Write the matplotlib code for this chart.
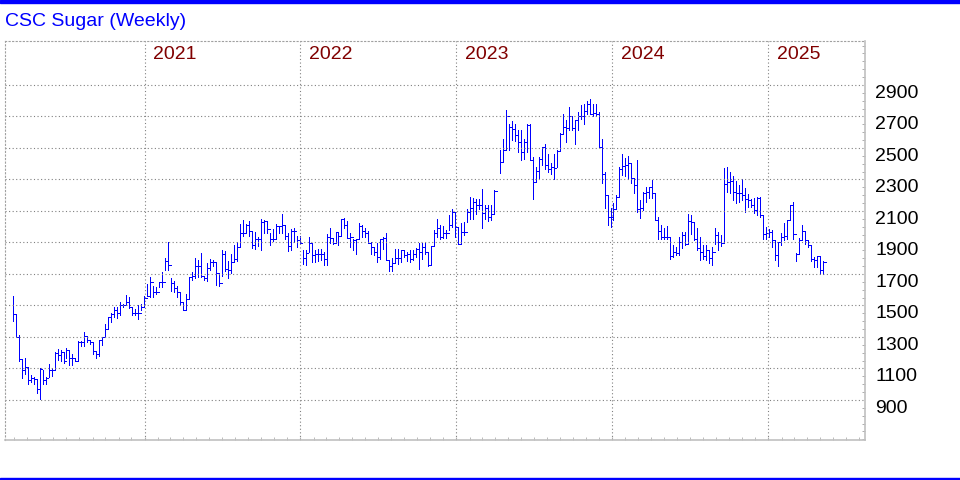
import numpy as np
import pandas as pd
import matplotlib
matplotlib.use('Agg')
import matplotlib.pyplot as plt
import matplotlib.dates as mdates
from matplotlib.ticker import MultipleLocator, NullFormatter
from matplotlib.patches import Rectangle

nan = np.nan

# weekly bars, first week ending late Feb 2020
weeks = pd.date_range('2020-02-27', periods=272, freq='7D')

high = [1561, 1445, 1310, 1160, 1167, 1112, 1058, 1047, 1032, 1100,
        1090, 1045, 1128, 1100, 1203, 1225, 1220, 1203, 1227, 1220,
        1190, 1167, 1272, 1272, 1330, 1308, 1283, 1265, 1214, 1278,
        1300, 1380, 1428, 1454, 1492, 1492, 1524, 1510, 1567, 1552,
        1488, 1480, 1503, 1510, 1557, 1638, 1680, 1624, 1620, 1652,
        1710, 1800, 1900, 1673, 1656, 1624, 1588, 1520, 1571, 1680,
        1710, 1800, 1790, 1830, 1688, 1770, 1795, 1790, 1770, 1705,
        1850, 1844, 1780, 1829, 1887, 1900, 2015, 2042, 2015, 2036,
        1972, 1968, 1936, 2047, 2042, 2036, 1961, 1987, 2015, 2004,
        2079, 2008, 1961, 1983, 1990, 1942, 1942, 1850, 1850, 1933,
        1894, 1850, 1861, 1861, 1840, 1955, 1990, 1926, 1965, 1965,
        2050, 2056, 2035, 1959, 1920, 1920, 2024, 2013, 1990, 1970,
        1905, 1872, 1894, 1920, 1937, 1959, 1785, 1803, 1861, 1861,
        1850, 1850, 1840, 1850, 1855, 1868, 1894, 1894, 1894, 1840,
        1876, 1980, 2046, 2013, 2002, 1980, 2073, 2115, 2094, 1999,
        2024, 2030, 2115, 2189, 2185, 2178, 2178, 2237, 2136, 2136,
        2136, 2235, nan, 2485, 2558, 2738, 2654, 2670, 2649, 2611,
        2616, 2558, 2649, 2649, 2442, 2379, 2442, 2506, 2527, 2463,
        2404, 2463, 2485, 2594, 2713, 2675, 2763, 2700, 2679, 2727,
        2770, 2780, 2801, 2812, 2780, 2776, 2727, 2558, 2345, 2202,
        2117, 2149, 2202, 2379, 2464, 2436, 2451, 2404, 2308, 2421,
        2170, 2223, 2255, 2255, 2298, 2213, 2060, 2010, 1989, 2004,
        1936, 1883, 1872, 1936, 1968, 1968, 2081, 2074, 2032, 1989,
        1936, 1883, 1883, 1851, 1872, 1989, 1968, 1947, 2370, 2377,
        2349, 2321, 2291, 2264, 2300, 2243, 2206, 2179, 2185, 2189,
        2189, 2072, 1998, 1987, 1977, 1913, 1902, 1960, 2023, 2040,
        2136, 2157, 1832, 1930, 2009, 1966, 1917, 1881, 1806, 1817,
        1817, 1785]

low = [1403, 1300, 1150, 1040, 1064, 1000, 1015, 1000, 947, 905,
       1000, 1000, 1047, 1050, 1092, 1154, 1150, 1133, 1167, 1122,
       1122, 1145, 1150, 1240, 1240, 1265, 1253, 1190, 1167, 1180,
       1246, 1300, 1351, 1396, 1428, 1422, 1439, 1488, 1503, 1482,
       1439, 1439, 1411, 1470, 1488, 1557, 1556, 1556, 1573, 1616,
       1616, 1727, 1727, 1594, 1588, 1556, 1500, 1470, 1470, 1541,
       1662, 1673, 1680, 1680, 1662, 1656, 1727, 1748, 1630, 1624,
       1688, 1716, 1673, 1705, 1780, 1780, 1872, 1944, 1961, 1944,
       1865, 1859, 1880, 1855, 1961, 1961, 1887, 1908, 1923, 1961,
       1961, 1919, 1844, 1855, 1905, 1872, 1894, 1764, 1757, 1840,
       1779, 1774, 1785, 1790, 1757, 1757, 1894, 1890, 1894, 1883,
       1942, 1990, 1926, 1872, 1850, 1829, 1920, 1933, 1933, 1894,
       1829, 1818, 1774, 1796, 1861, 1790, 1720, 1720, 1768, 1764,
       1774, 1807, 1785, 1774, 1790, 1807, 1731, 1796, 1829, 1753,
       1764, 1876, 1937, 1920, 1926, 1926, 1978, 1999, 1935, 1893,
       1893, 1946, 2030, 2052, 2052, 2083, 2115, 1995, 2052, 2037,
       2041, 2083, nan, 2341, 2411, 2485, 2485, 2548, 2544, 2474,
       2421, 2432, 2474, 2421, 2178, 2284, 2311, 2389, 2368, 2347,
       2333, 2305, 2379, 2480, 2586, 2537, 2611, 2611, 2527, 2616,
       2685, 2654, 2717, 2713, 2706, 2700, 2506, 2278, 2117, 2010,
       2000, 2042, 2111, 2187, 2330, 2319, 2302, 2277, 2213, 2096,
       2053, 2106, 2160, 2181, 2181, 2042, 1919, 1919, 1925, 1919,
       1798, 1808, 1819, 1819, 1862, 1883, 1893, 1953, 1915, 1855,
       1787, 1798, 1787, 1770, 1755, 1893, 1851, 1876, 1902, 2221,
       2211, 2172, 2151, 2157, 2172, 2094, 2126, 2126, 2087, 2072,
       2062, 1923, 1923, 1934, 1870, 1791, 1753, 1887, 1913, 1923,
       2040, 1923, 1785, 1832, 1913, 1891, 1874, 1785, 1742, 1742,
       1700, 1700]

close = [1445, 1300, 1160, 1092, 1112, 1026, 1040, 1032, 972, 1095,
         1030, 1040, 1092, 1092, 1200, 1186, 1203, 1150, 1220, 1167,
         1165, 1150, 1265, 1265, 1308, 1283, 1265, 1210, 1190, 1278,
         1300, 1351, 1428, 1445, 1470, 1454, 1503, 1503, 1520, 1488,
         1450, 1450, 1450, 1488, 1550, 1561, 1652, 1588, 1588, 1652,
         1652, 1784, 1756, 1641, 1613, 1588, 1520, 1470, 1541, 1680,
         1688, 1748, 1748, 1688, 1673, 1737, 1773, 1773, 1705, 1641,
         1829, 1730, 1727, 1773, 1795, 1872, 1961, 1961, 2008, 1972,
         1882, 1919, 1923, 2030, 2036, 1987, 1923, 1923, 2004, 2004,
         2008, 1940, 1880, 1972, 1974, 1916, 1898, 1803, 1833, 1894,
         1818, 1824, 1824, 1824, 1796, 1937, 1926, 1898, 1965, 1942,
         2046, 2013, 1926, 1933, 1916, 1920, 2002, 1970, 1959, 1894,
         1872, 1840, 1807, 1920, 1931, 1790, 1753, 1768, 1803, 1803,
         1850, 1818, 1829, 1796, 1824, 1861, 1840, 1872, 1840, 1759,
         1876, 1959, 1990, 1937, 1959, 1959, 2009, 2094, 1999, 1893,
         1967, 1967, 2094, 2121, 2157, 2136, 2136, 2090, 2121, 2062,
         2083, 2225, nan, 2411, 2485, 2700, 2632, 2622, 2580, 2537,
         2474, 2537, 2643, 2421, 2284, 2354, 2432, 2506, 2389, 2368,
         2379, 2375, 2480, 2586, 2632, 2628, 2700, 2628, 2675, 2706,
         2700, 2734, 2780, 2717, 2721, 2713, 2506, 2337, 2202, 2060,
         2060, 2111, 2187, 2366, 2387, 2394, 2404, 2308, 2266, 2111,
         2117, 2217, 2223, 2255, 2213, 2042, 1974, 1936, 1936, 1932,
         1812, 1840, 1830, 1904, 1947, 1893, 2036, 2032, 1919, 1868,
         1840, 1812, 1851, 1804, 1840, 1947, 1904, 1898, 2274, 2285,
         2291, 2221, 2215, 2211, 2204, 2179, 2168, 2136, 2108, 2185,
         2072, 1951, 1960, 1966, 1913, 1823, 1902, 1934, 1938, 2040,
         2136, 1951, 1828, 1917, 1972, 1913, 1881, 1796, 1789, 1813,
         1725, 1774]

years = [2021, 2022, 2023, 2024, 2025]
price_ticks = list(range(900, 3000, 200))

plt.rcParams['font.family'] = ['Liberation Sans', 'DejaVu Sans']

fig = plt.figure(figsize=(9.6, 4.8), dpi=100)
ax = fig.add_axes([5 / 960, 40 / 480, 860 / 960, 399 / 480])

x = mdates.date2num(weeks)
ax.vlines(x, low, high, color='#0000ff', lw=0.72, antialiased=False)
ax.hlines(close, x, x + 6.5, color='#0000ff', lw=0.72, antialiased=False)

ax.set_xlim(mdates.date2num(pd.Timestamp('2020-02-09')),
            mdates.date2num(pd.Timestamp('2025-08-15')))
ax.set_ylim(646, 3179)

# grid
dotted = (0, (1, 2.2))
for p in price_ticks:
    ax.axhline(p, color='#808080', lw=0.8, ls=dotted)
    # price label sits just below its grid line, right of the frame
    ax.annotate(str(p), xy=(1, p), xycoords=('axes fraction', 'data'),
                xytext=(7.5, -6), textcoords='offset points',
                ha='left', va='center', fontsize=14, color='black')
for yr in years:
    d = mdates.date2num(pd.Timestamp(f'{yr}-01-01'))
    ax.axvline(d, color='#808080', lw=0.8, ls=dotted)
    ax.annotate(str(yr), xy=(d, 1), xycoords=('data', 'axes fraction'),
                xytext=(6, -9.5), textcoords='offset points',
                ha='left', va='center', fontsize=14, color='#800000')

# axes / ticks
ax.yaxis.tick_right()
ax.set_yticks(price_ticks)
ax.yaxis.set_major_formatter(NullFormatter())
ax.yaxis.set_minor_locator(MultipleLocator(50))
ax.tick_params(axis='y', which='major', length=0)
ax.tick_params(axis='y', which='minor', length=2, direction='in', color='#a0a0a0')
ax.xaxis.set_major_locator(mdates.YearLocator())
ax.xaxis.set_minor_locator(mdates.MonthLocator())
ax.xaxis.set_major_formatter(NullFormatter())
ax.tick_params(axis='x', which='both', length=2.5, direction='in', color='#b0b0b0')

for s in ['right', 'bottom']:
    ax.spines[s].set_color('#c0c0c0')
    ax.spines[s].set_linewidth(1.2)
for s in ['left', 'top']:
    ax.spines[s].set_color('#a0a0a0')
    ax.spines[s].set_linewidth(0.8)
    ax.spines[s].set_linestyle(dotted)

fig.text(5 / 960, 1 - 21 / 480, 'CSC Sugar (Weekly)', color='#0000ff',
         fontsize=14, ha='left', va='center')

fig.add_artist(Rectangle((0, 1 - 3 / 480), 1, 3 / 480, color='#0000ff',
                         transform=fig.transFigure))
fig.add_artist(Rectangle((0, 0), 1, 2.5 / 480, color='#0000ff',
                         transform=fig.transFigure))

fig.savefig('out.png', dpi=100)
